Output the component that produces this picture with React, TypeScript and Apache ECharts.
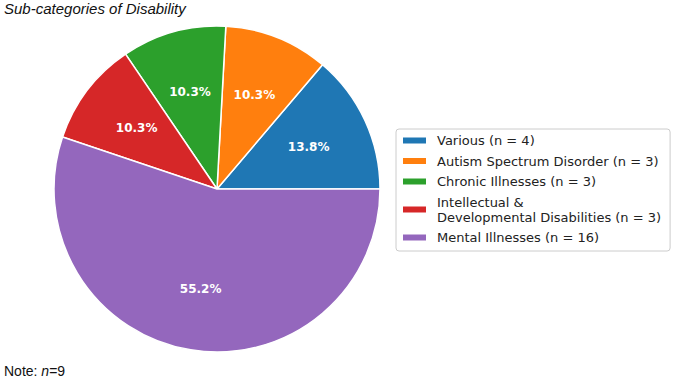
import React, { useEffect, useRef } from "react";
import * as echarts from "echarts";

const categories = [
  "Various (n = 4)",
  "Autism Spectrum Disorder (n = 3)",
  "Chronic Illnesses (n = 3)",
  "Intellectual & Developmental Disabilities (n = 3)",
  "Mental Illnesses (n = 16)",
];
const counts = [4, 3, 3, 3, 16];
const colors = ["#1f77b4", "#ff7f0e", "#2ca02c", "#d62728", "#9467bd"];

export default function App() {
  const ref = useRef<HTMLDivElement>(null);
  useEffect(() => {
    if (!ref.current) return;
    const chart = echarts.init(ref.current, null, { renderer: "svg" });
    const total = counts.reduce((a, b) => a + b, 0);
    const data = categories.map((name, i) => ({
      name,
      value: counts[i],
      itemStyle: { color: colors[i] },
    }));
    chart.setOption({
      animation: false,
      backgroundColor: "#ffffff",
      title: {
        text: "Sub-categories of Disability",
        left: 4,
        top: 1,
        padding: 0,
        textStyle: {
          fontFamily: "Liberation Sans",
          fontStyle: "italic",
          fontWeight: "normal",
          fontSize: 15,
          color: "#111",
        },
      },
      legend: {
        orient: "vertical",
        left: 396,
        top: 129,
        padding: [4, 9, 6, 5],
        borderColor: "#cccccc",
        borderWidth: 1,
        borderRadius: 3,
        itemWidth: 25,
        itemHeight: 8,
        itemGap: 5.5,
        icon: "rect",
        data: categories,
        formatter: (name: string) =>
          name.replace("Intellectual & ", "Intellectual &\n"),
        textStyle: {
          fontFamily: "DejaVu Sans",
          fontSize: 13,
          lineHeight: 15,
          color: "#222",
          padding: [0, 0, 0, 5],
        },
      },
      series: [
        {
          type: "pie",
          center: [217, 189],
          radius: 163,
          startAngle: 0,
          clockwise: false,
          silent: true,
          label: { show: false },
          labelLine: { show: false },
          itemStyle: { borderColor: "#ffffff", borderWidth: 1.5 },
          data,
        },
        {
          type: "pie",
          center: [217, 189],
          radius: [0, 196],
          startAngle: 0,
          clockwise: false,
          silent: true,
          legendHoverLink: false,
          itemStyle: { color: "rgba(0,0,0,0)", borderWidth: 0 },
          labelLine: { show: false },
          label: {
            show: true,
            position: "inside",
            formatter: (p: any) => ((p.value / total) * 100).toFixed(1) + "%",
            fontFamily: "DejaVu Sans",
            fontWeight: "bold",
            fontSize: 12,
            color: "#ffffff",
          },
          data: categories.map((name, i) => ({ name, value: counts[i] })),
        },
      ],
      graphic: [
        {
          type: "text",
          left: 4,
          top: 364,
          style: {
            text: "{a|Note: }{b|n}{a|=9}",
            rich: {
              a: { fontFamily: "Liberation Sans", fontSize: 14, fill: "#111" },
              b: {
                fontFamily: "Liberation Sans",
                fontSize: 14,
                fontStyle: "italic",
                fill: "#111",
              },
            },
          },
        },
      ],
    });
    return () => chart.dispose();
  }, []);
  return (
    <div
      ref={ref}
      style={{ position: "fixed", left: 0, top: 0, width: 678, height: 382 }}
    />
  );
}
